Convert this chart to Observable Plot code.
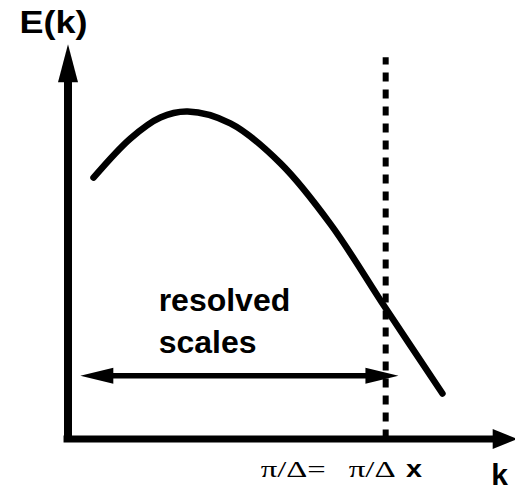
<!DOCTYPE html>
<html>
<head>
<meta charset="utf-8">
<script src="https://cdn.jsdelivr.net/npm/d3@7"></script>
<script src="https://cdn.jsdelivr.net/npm/@observablehq/plot@0.6"></script>
<style>
  html, body { margin: 0; padding: 0; background: #fff; }
</style>
</head>
<body>
<div id="chart"></div>
<script>
// Energy spectrum curve E(k)
const kCurve = [0.58, 1.42, 2.10, 2.72, 3.69, 4.83, 5.97, 7.22, 8.51];
const ECurve = [6.60, 7.59, 8.12, 8.27, 7.97, 6.96, 5.42, 3.30, 1.15];
// cutoff wavenumber pi/Delta
const kCutoff = [7.22];
const cutoffTop = [9.63];
// resolved-scales arrow
const arrowK = [0.28, 7.51];
const arrowE = [1.60];
// axis extents
const yAxisTip = [9.97];
const xAxisTip = [10.22];
// labels
const labelTexts = ["E(k)", "resolved", "scales", "k", "\u03C0/\u0394=", "\u03C0/\u0394", "x"];

const curve = kCurve.map((k, i) => ({k, E: ECurve[i]}));

function tri(L, W) {
  return {draw(ctx) { ctx.moveTo(0, 0); ctx.lineTo(-L, -W / 2); ctx.lineTo(-L, W / 2); ctx.closePath(); }};
}

const sans = "Liberation Sans, Arial, sans-serif";
const serif = "Liberation Serif, Times New Roman, serif";

function label(i, x, y, opts) {
  return Plot.text([labelTexts[i]], {x: () => x, y: () => y, text: d => d, lineAnchor: "bottom", fill: "black", className: "lbl" + i, ...opts});
}

const plot = Plot.plot({
  width: 515,
  height: 490,
  margin: 0,
  x: {domain: [0, 10], range: [67.5, 507.5], axis: null},
  y: {domain: [0, 10], range: [438.5, 42.5], axis: null},
  style: {background: "white"},
  marks: [
    // axes
    Plot.ruleX([0], {y1: -0.09, y2: yAxisTip[0] - 0.7, stroke: "black", strokeWidth: 8}),
    Plot.ruleY([0], {x1: -0.09, x2: xAxisTip[0] - 0.45, stroke: "black", strokeWidth: 7}),
    Plot.dot(yAxisTip, {x: () => 0, y: d => d, symbol: tri(38, 20), rotate: -90, fill: "black", stroke: "none"}),
    Plot.dot(xAxisTip, {x: d => d, y: () => 0, symbol: tri(25, 20), rotate: 0, fill: "black", stroke: "none"}),
    // cutoff dotted line
    Plot.ruleX(kCutoff, {y1: 0, y2: cutoffTop[0], stroke: "black", strokeWidth: 6, strokeDasharray: "9,8"}),
    // spectrum
    Plot.line(curve, {x: "k", y: "E", curve: "catmull-rom", stroke: "black", strokeWidth: 6.5}),
    // resolved scales double arrow
    Plot.ruleY(arrowE, {x1: arrowK[0] + 0.5, x2: arrowK[1] - 0.5, stroke: "black", strokeWidth: 5.5}),
    Plot.dot([arrowK[0]], {x: d => d, y: () => arrowE[0], symbol: tri(33, 16), rotate: 180, fill: "black", stroke: "none"}),
    Plot.dot([arrowK[1]], {x: d => d, y: () => arrowE[0], symbol: tri(33, 16), rotate: 0, fill: "black", stroke: "none"}),
    // labels
    label(0, -0.33, 10.24, {textAnchor: "middle", fontFamily: sans, fontWeight: "bold", fontSize: 32}),
    label(1, 2.06, 3.24, {textAnchor: "start", fontFamily: sans, fontWeight: "bold", fontSize: 32}),
    label(2, 2.06, 2.18, {textAnchor: "start", fontFamily: sans, fontWeight: "bold", fontSize: 32}),
    label(3, 9.81, -1.17, {textAnchor: "middle", fontFamily: sans, fontWeight: "bold", fontSize: 30}),
    label(4, 4.38, -0.97, {textAnchor: "start", fontFamily: serif, fontSize: 24}),
    label(5, 6.38, -0.97, {textAnchor: "start", fontFamily: serif, fontSize: 24}),
    label(6, 7.68, -0.97, {textAnchor: "start", fontFamily: sans, fontWeight: "bold", fontSize: 23})
  ]
});
// stretch a few labels horizontally to match the reference lettering widths
const stretch = {lbl0: 68, lbl4: 65, lbl5: 47, lbl6: 16};
for (const [cls, len] of Object.entries(stretch)) {
  d3.select(plot).selectAll("." + cls + " text").attr("textLength", len).attr("lengthAdjust", "spacingAndGlyphs");
}
document.getElementById("chart").appendChild(plot);
</script>
</body>
</html>
